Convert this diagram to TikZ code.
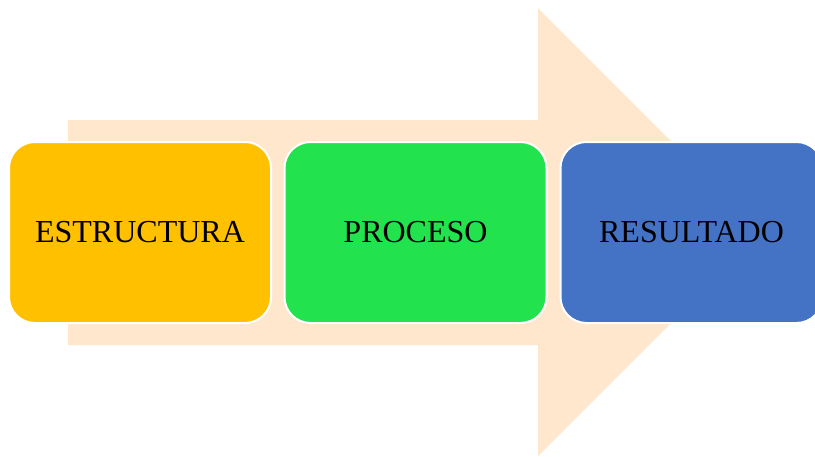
\documentclass[tikz,border=0pt]{standalone}
\usepackage{fontspec}
\setmainfont{Liberation Serif}
\definecolor{arrowfill}{HTML}{FFE7CD}
\definecolor{boxyellow}{HTML}{FFC000}
\definecolor{boxgreen}{HTML}{22E34D}
\definecolor{boxblue}{HTML}{4472C4}
\begin{document}
\begin{tikzpicture}[x=1pt,y=-1pt,
  stagebox/.style={draw=white, line width=2pt, rounded corners=26pt,
    minimum width=262pt, minimum height=181pt, inner sep=0pt,
    font=\fontsize{32}{38}\selectfont, text=black}]
\clip (0,0) rectangle (815,456);
\fill[white] (0,0) rectangle (815,456);
% big background arrow
\fill[arrowfill] (68,120) -- (538,120) -- (538,8) -- (762,232) -- (538,456) -- (538,345) -- (68,345) -- cycle;
\node[stagebox, fill=boxyellow] (e) at (140,232.5) {ESTRUCTURA};
\node[stagebox, fill=boxgreen] (p) at (415.5,232.5) {PROCESO};
\node[stagebox, fill=boxblue] (r) at (691.5,232.5) {RESULTADO};
\end{tikzpicture}
\end{document}
